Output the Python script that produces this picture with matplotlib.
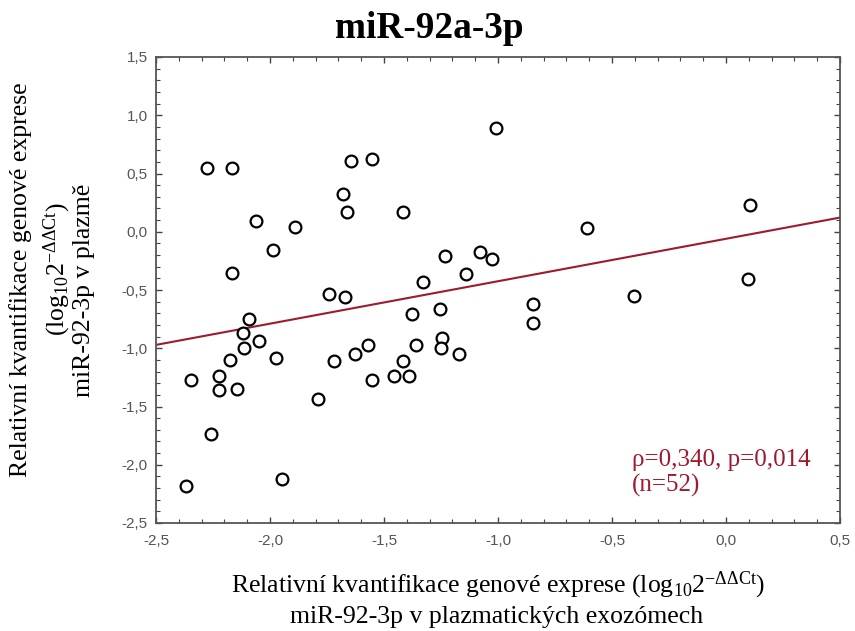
import numpy as np
import matplotlib
import matplotlib.pyplot as plt
from matplotlib.ticker import MultipleLocator, FuncFormatter

# hodnoty (x = exozómy, y = plazma)
x_exo = [-2.278, -2.165, -1.646, -1.551, -1.009, -1.681, -1.664, -1.418, -2.061, -1.890,
         -1.987, -2.165, -1.232, -1.079, -1.028, -1.142, -1.330, 0.105, -0.608, 0.098,
         -1.740, -1.670, -2.091, -2.120, -2.047, -2.114, -2.175, -1.974, -2.348, -2.224,
         -2.222, -2.145, -2.259, -2.368, -1.946, -1.788, -1.721, -1.626, -1.569, -1.551,
         -1.458, -1.418, -1.389, -1.377, -1.360, -1.254, -1.244, -1.250, -1.170, -0.845,
         -0.845, -0.405]
y_plazma = [0.547, 0.547, 0.605, 0.624, 0.888, 0.324, 0.170, 0.170, 0.092, 0.044,
            -0.159, -0.351, -0.208, -0.171, -0.237, -0.365, -0.430, 0.230, 0.035, -0.408,
            -0.537, -0.557, -0.752, -0.866, -0.935, -0.995, -1.101, -1.081, -1.273, -1.235,
            -1.361, -1.350, -1.736, -2.185, -2.125, -1.436, -1.109, -1.049, -0.972, -1.273,
            -1.235, -1.109, -1.235, -0.703, -0.972, -0.663, -0.915, -0.995, -1.049, -0.623,
            -0.786, -0.549]

title = 'miR-92a-3p'
stat_text = 'ρ=0,340, p=0,014\n(n=52)'

plt.rcParams['mathtext.fontset'] = 'custom'
plt.rcParams['mathtext.rm'] = 'Liberation Serif'
plt.rcParams['mathtext.it'] = 'Liberation Serif:italic'
plt.rcParams['mathtext.bf'] = 'Liberation Serif:bold'

serif = 'Liberation Serif'
red = '#9e1b2e'
lab_size = 18.5

fig = plt.figure(figsize=(8.55, 6.31), dpi=100)
ax = fig.add_axes([156 / 855, 1 - 523 / 631, 684 / 855, 466 / 631])

ax.scatter(x_exo, y_plazma, s=72, facecolors='white', edgecolors='black',
           linewidths=1.6, zorder=3)

# lineární regrese
k, q = np.polyfit(x_exo, y_plazma, 1)
xx = np.array([-2.5, 0.5])
ax.plot(xx, k * xx + q, color=red, linewidth=1.5, zorder=2)

ax.set_xlim(-2.5, 0.5)
ax.set_ylim(-2.5, 1.5)
ax.xaxis.set_major_locator(MultipleLocator(0.5))
ax.xaxis.set_minor_locator(MultipleLocator(0.1))
ax.yaxis.set_major_locator(MultipleLocator(0.5))
ax.yaxis.set_minor_locator(MultipleLocator(0.1))
fmt = FuncFormatter(lambda v, p: f'{v:.1f}'.replace('.', ','))
ax.xaxis.set_major_formatter(fmt)
ax.yaxis.set_major_formatter(fmt)

ax.tick_params(which='both', direction='in', top=True, right=True, color='#444444',
               labelcolor='#555555', labelsize=11)
ax.tick_params(which='major', length=4, width=1)
ax.tick_params(which='minor', length=3, width=0.8)
ax.tick_params(axis='x', pad=8)
ax.tick_params(axis='y', pad=6)
for lab in ax.get_xticklabels() + ax.get_yticklabels():
    lab.set_fontfamily('Liberation Sans')
for sp in ax.spines.values():
    sp.set_color('#555555')
    sp.set_linewidth(1.3)

ax.text(632 / 855, 1 - 449 / 631, stat_text, transform=fig.transFigure, color=red,
        fontsize=18, family=serif, va='top', ha='left', linespacing=1.15)

fig.text(429 / 855, 1 - 28 / 631, title, ha='center', va='center', fontsize=26.8,
         fontweight='bold', family=serif)

# popisky os
fig.text(498 / 855, 1 - 592 / 631,
         r'Relativní kvantifikace genové exprese (log$_{10}$2$^{-\Delta\Delta \mathrm{Ct}}$)',
         ha='center', va='baseline', fontsize=lab_size, family=serif)
fig.text(497 / 855, 1 - 623 / 631, 'miR-92-3p v plazmatických exozómech',
         ha='center', va='baseline', fontsize=lab_size, family=serif)

fig.text(21 / 855, 1 - 280 / 631, 'Relativní kvantifikace genové exprese',
         ha='center', va='center', rotation=90, fontsize=lab_size, family=serif)
fig.text(57 / 855, 1 - 269 / 631, r'(log$_{10}$2$^{-\Delta\Delta \mathrm{Ct}}$)',
         ha='center', va='center', rotation=90, fontsize=lab_size, family=serif)
fig.text(84 / 855, 1 - 290 / 631, 'miR-92-3p v plazmě',
         ha='center', va='center', rotation=90, fontsize=lab_size, family=serif)

fig.savefig('out.png', dpi=100)
